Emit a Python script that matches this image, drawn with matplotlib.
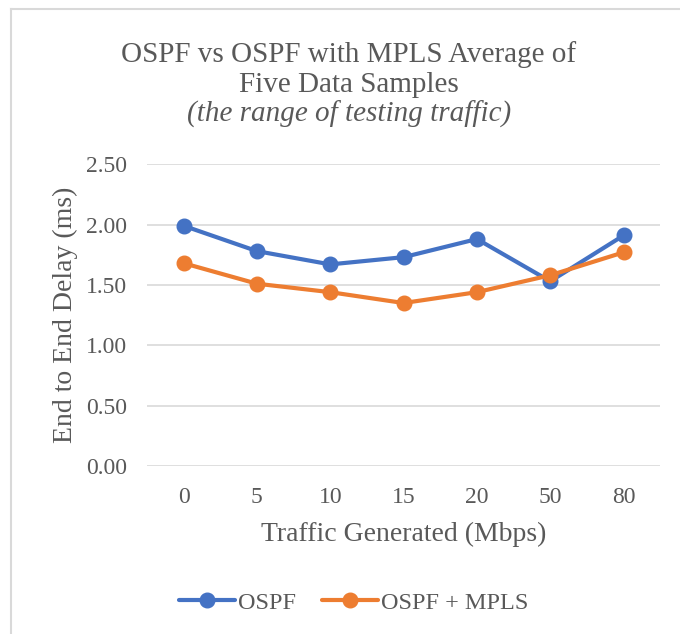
import numpy as np
import matplotlib.pyplot as plt
from matplotlib.lines import Line2D

# ── Data ─────────────────────────────────────────────────────────
traffic = ['0', '5', '10', '15', '20', '50', '80']
ospf = [1.99, 1.78, 1.67, 1.73, 1.88, 1.53, 1.91]
ospf_mpls = [1.68, 1.51, 1.44, 1.35, 1.44, 1.58, 1.77]

# ── Style ────────────────────────────────────────────────────────
plt.rcParams['font.family'] = ['Liberation Serif', 'DejaVu Serif']
text_col = '#595959'
grid_col = '#D9D9D9'

fig = plt.figure(figsize=(6.8, 6.34), dpi=100)
ax = fig.add_axes([0.216, 0.265, 0.755, 0.476])

x = np.arange(len(traffic))
ax.plot(x, ospf, color='#4472C4', lw=3, marker='o', ms=10.5,
        label='OSPF', solid_capstyle='round')
ax.plot(x, ospf_mpls, color='#ED7D31', lw=3, marker='o', ms=10.5,
        label='OSPF + MPLS', solid_capstyle='round')

ax.set_xlim(-0.5, len(traffic) - 0.5)
ax.set_ylim(0, 2.5)
ax.set_yticks(np.arange(0, 2.51, 0.5))
ax.set_yticklabels([f'{v:.2f}' for v in np.arange(0, 2.51, 0.5)])
ax.set_xticks(x)
ax.set_xticklabels(traffic)
ax.tick_params(length=0, labelsize=17, colors=text_col)
ax.tick_params(axis='x', pad=15)
ax.tick_params(axis='y', pad=14)
ax.grid(axis='y', color=grid_col, lw=1.2)
ax.set_axisbelow(True)
for s in ax.spines.values():
    s.set_visible(False)

ax.set_xlabel('Traffic Generated (Mbps)', fontsize=20, color=text_col,
              labelpad=10)
ax.set_ylabel('End to End Delay (ms)', fontsize=20, color=text_col,
              labelpad=6)

# ── Title ────────────────────────────────────────────────────────
fig.text(0.513, 0.914, 'OSPF vs OSPF with MPLS Average of',
         ha='center', va='center', fontsize=21, color=text_col)
fig.text(0.513, 0.866, 'Five Data Samples',
         ha='center', va='center', fontsize=21, color=text_col)
fig.text(0.513, 0.819, '(the range of testing traffic)',
         ha='center', va='center', fontsize=21, color=text_col,
         style='italic')

# ── Legend ───────────────────────────────────────────────────────
fig.legend(loc='center', bbox_to_anchor=(0.52, 0.049), ncol=2,
           frameon=False, fontsize=17.5, labelcolor=text_col,
           handlelength=2.3, handletextpad=0.1, columnspacing=1.1)

# ── Chart frame (left and top edges only) ────────────────────────
fig.add_artist(Line2D([0.016, 0.016], [0, 0.986], color=grid_col,
                      lw=1.5, transform=fig.transFigure))
fig.add_artist(Line2D([0.016, 1.0], [0.986, 0.986], color=grid_col,
                      lw=1.5, transform=fig.transFigure))

fig.savefig('out.png', dpi=100, facecolor='white')
